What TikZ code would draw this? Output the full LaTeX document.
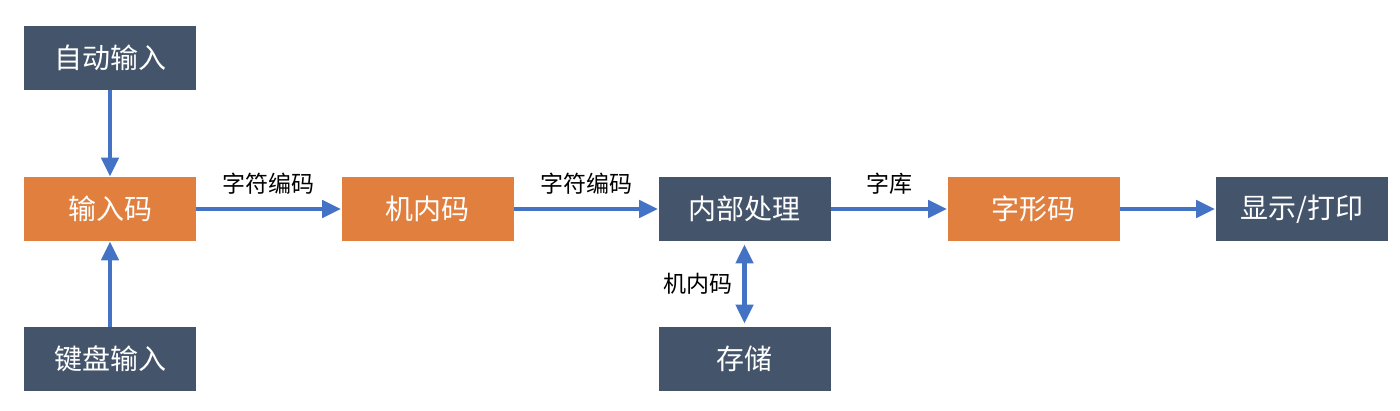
\documentclass[tikz,border=0pt]{standalone}
\usepackage{fontspec}
\setmainfont{Noto Sans CJK SC}
\usepackage{xcolor}
\usepackage{tikz}
\usetikzlibrary{arrows.meta}
\usetikzlibrary{positioning}

\definecolor{slate}{HTML}{44546A}
\definecolor{carrot}{HTML}{E07F3E}
\definecolor{flow}{HTML}{4472C4}

\tikzset{
  darkbox/.style={fill=slate, text=white, minimum width=86pt, minimum height=32pt, inner sep=0pt, font=\fontsize{14}{16}\selectfont},
  orangebox/.style={darkbox, fill=carrot},
  lbl/.style={text=black, font=\fontsize{11.5}{13}\selectfont, inner sep=1pt},
  bigtip/.tip={Triangle[width=8.5pt,length=9.5pt]},
  flowline/.style={color=flow, line width=2.2pt, -bigtip}
}

\begin{document}
\begin{tikzpicture}[x=0.5pt,y=-0.5pt]
\useasboundingbox (0,0) rectangle (1400,411);
\node[darkbox] at (110,58) (auto) {自动输入};
\node[orangebox] at (110,209) (incode) {输入码};
\node[darkbox] at (110,359) (keyb) {键盘输入};
\node[orangebox] at (427.5,209) (inner) {机内码};
\node[darkbox] at (744.5,209) (proc) {内部处理};
\node[darkbox] at (744.5,359) (store) {存储};
\node[orangebox] at (1033.5,209) (glyph) {字形码};
\node[darkbox] at (1301.5,209) (disp) {显示/打印};
\path[flowline] (auto) edge (incode);
\path[flowline] (keyb) edge (incode);
\path[flowline] (incode) edge node [lbl, above=5pt] {字符编码} (inner);
\path[flowline] (inner) edge node [lbl, above=5pt] {字符编码} (proc);
\path[flowline] (proc) edge node [lbl, above=5pt] {字库} (glyph);
\path[flowline] (glyph) edge (disp);
\path[flowline, bigtip-bigtip, shorten <=1.5pt, shorten >=1.5pt] (proc) edge node [lbl, left=4pt] {机内码} (store);
\end{tikzpicture}
\end{document}
